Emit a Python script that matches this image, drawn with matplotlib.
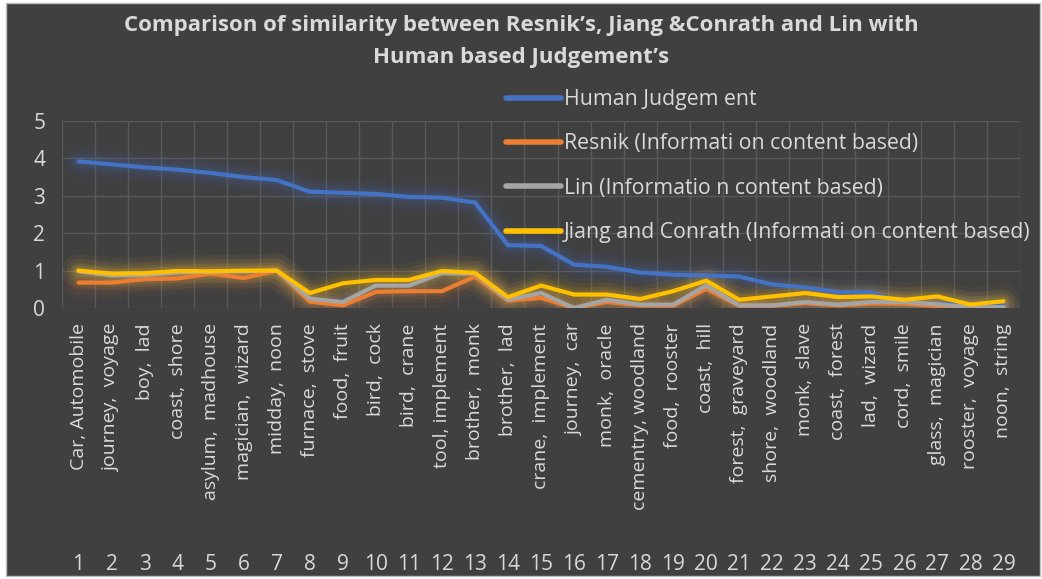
import numpy as np
import matplotlib
matplotlib.use("Agg")
import matplotlib.pyplot as plt
from matplotlib.patches import Rectangle

plt.rcParams['font.family'] = ['Open Sans', 'DejaVu Sans']

# data
pairs = ["Car, Automobile", "journey,  voyage", "boy,  lad", "coast,  shore",
         "asylum,  madhouse", "magician,  wizard", "midday,  noon", "furnace,  stove",
         "food,  fruit", "bird,  cock", "bird,  crane", "tool, implement",
         "brother,  monk", "brother,  lad", "crane,  implement", "journey,  car",
         "monk,  oracle", "cementry, woodland", "food,  rooster", "coast,  hill",
         "forest,  graveyard", "shore,  woodland", "monk,  slave", "coast,  forest",
         "lad,  wizard", "cord,  smile", "glass,  magician", "rooster,  voyage",
         "noon,  string"]
nums = [str(i) for i in range(1, 30)]

human = [3.92, 3.84, 3.76, 3.70, 3.61, 3.50, 3.42, 3.11, 3.08, 3.05, 2.97, 2.95, 2.82, 1.68,
         1.66, 1.16, 1.10, 0.95, 0.89, 0.87, 0.84, 0.63, 0.55, 0.42, 0.42, 0.13, 0.11, 0.08, 0.08]
resnik = [0.68, 0.68, 0.77, 0.79, 0.92, 0.80, 1.00, 0.17, 0.07, 0.43, 0.45, 0.45, 0.84, 0.20,
          0.27, 0.00, 0.16, 0.07, 0.06, 0.51, 0.06, 0.06, 0.13, 0.07, 0.12, 0.12, 0.05, 0.00, 0.00]
lin = [0.98, 0.87, 0.88, 0.95, 0.97, 0.98, 1.00, 0.25, 0.16, 0.60, 0.60, 0.93, 0.92, 0.22,
       0.40, 0.00, 0.22, 0.09, 0.09, 0.60, 0.07, 0.07, 0.16, 0.09, 0.16, 0.16, 0.10, 0.02, 0.02]
jiang = [1.00, 0.92, 0.93, 0.99, 0.98, 1.00, 1.00, 0.40, 0.66, 0.75, 0.75, 0.99, 0.94, 0.29,
         0.60, 0.36, 0.36, 0.24, 0.45, 0.73, 0.22, 0.31, 0.40, 0.29, 0.31, 0.22, 0.31, 0.09, 0.18]

labels = ["Human Judgem ent", "Resnik (Informati on content based)",
          "Lin (Informatio n content based)", "Jiang and Conrath (Informati on content based)"]
colors = ['#4472c4', '#ed7d31', '#a5a5a5', '#ffc000']

bg = '#404040'
txt = '#d9d9d9'

fig = plt.figure(figsize=(10.42, 5.79), dpi=100, facecolor='white')
fig.add_artist(Rectangle((6/1042, 3/579), 1034/1042, 573/579, transform=fig.transFigure,
                         facecolor=bg, edgecolor='#bfbfbf', lw=1, zorder=-5))
ax = fig.add_axes([62/1042, 1-308/579, 958/1042, 187/579])
ax.set_facecolor('none')

x = np.arange(1, 30)
series = [human, resnik, lin, jiang]
for s, c in zip(series, colors):
    # soft glow
    for w, a in [(24, 0.04), (17, 0.06), (11, 0.08), (7, 0.1)]:
        ax.plot(x, s, color=c, lw=w, alpha=a, solid_capstyle='round',
                solid_joinstyle='round', zorder=1)
for s, c, lab in zip(series, colors, labels):
    ax.plot(x, s, color=c, lw=3, label=lab, solid_capstyle='round',
            solid_joinstyle='round', zorder=3)

ax.set_xlim(0.5, 29.5)
ax.set_ylim(0, 5)
ax.set_yticks(range(6))
ax.set_xticks(np.arange(0.5, 30, 1), minor=True)
ax.grid(True, which='minor', axis='x', color='#595959', lw=1)
ax.grid(True, which='major', axis='y', color='#595959', lw=1)
ax.set_axisbelow(True)
for sp in ax.spines.values():
    sp.set_visible(False)

ax.set_xticks(x)
ax.set_xticklabels(pairs, rotation=90, va='top', ha='center')
ax.tick_params(axis='x', which='both', length=0, pad=11, labelsize=14, labelcolor=txt)
ax.tick_params(axis='y', length=0, pad=12, labelsize=15, labelcolor=txt)

sec = ax.secondary_xaxis(-1.30)
sec.set_xticks(x, nums)
sec.tick_params(length=0, pad=2, labelsize=15, labelcolor=txt)
for sp in sec.spines.values():
    sp.set_visible(False)

leg = ax.legend(loc='upper left', bbox_to_anchor=(506/1042, 1-89/579),
                bbox_transform=fig.transFigure, frameon=False, fontsize=15.3,
                handlelength=2.6, handletextpad=0.12, labelspacing=1.1,
                borderaxespad=0, borderpad=0)
for t in leg.get_texts():
    t.set_color(txt)
for h in leg.get_lines():
    h.set_linewidth(4)

fig.text(0.5, 1-25/579, "Comparison of similarity between Resnik\u2019s, Jiang &Conrath and Lin with",
         ha='center', va='center', fontsize=16, fontweight='bold', color=txt)
fig.text(0.5, 1-57/579, "Human based Judgement\u2019s",
         ha='center', va='center', fontsize=16, fontweight='bold', color=txt)

fig.savefig('out.png', dpi=100, facecolor=fig.get_facecolor())
